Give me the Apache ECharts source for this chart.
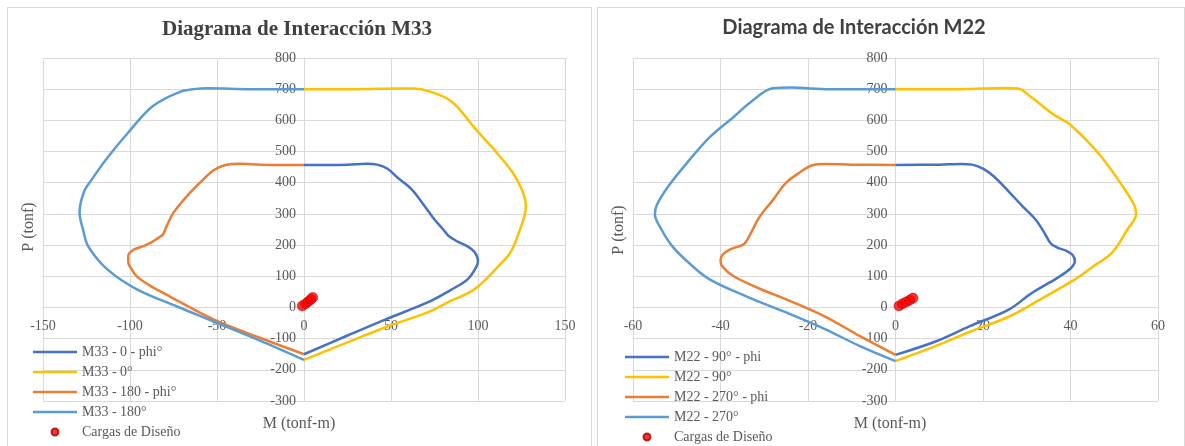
<!DOCTYPE html>
<html>
<head>
<meta charset="utf-8">
<script src="https://cdn.jsdelivr.net/npm/echarts@6/dist/echarts.min.js"></script>
<style>
  html, body { margin: 0; padding: 0; background: #fff; width: 1185px; height: 446px; overflow: hidden; }
  .panel { position: absolute; top: 7px; height: 445px; border: 1px solid #d9d9d9; background: #fff; }
  #m33 { left: 7px; width: 583px; }
  #m22 { left: 597px; width: 586px; }
</style>
</head>
<body>
<div id="m33" class="panel"></div>
<div id="m22" class="panel"></div>
<script>
// ---- Interaction diagram M33: [M (tonf-m), P (tonf)] ----
const m33Phi0 = [[0,457],[25,458],[36,461],[42,458],[48,445],[54,415],[62,378],[70,320],[75,282],[80,250],[83,230],[88,212],[94,196],[98,178],[100,150],[99,130],[94,90],[84,55],[71,16],[47,-38],[25,-90],[0,-150]];
const m33Nom0 = [[0,700],[30,700],[55,702],[63,702],[72,693],[85,660],[98,576],[111,495],[120,432],[125,380],[127.5,330],[127,300],[124,248],[119,180],[113,140],[98,58],[84,20],[71,-16],[48,-61],[25,-112],[0,-168]];
const m33Phi180 = [[0,457],[-25,458],[-36,461],[-45,457],[-52,440],[-58,410],[-66,365],[-75,304],[-79,260],[-81,235],[-84,222],[-88,208],[-93,195],[-98,185],[-101,165],[-101,144],[-99,122],[-96,99],[-87,65],[-77,35],[-52,-38],[-25,-98],[0,-150]];
const m33Nom180 = [[0,700],[-30,700],[-55,703],[-62,701],[-72,690],[-87,645],[-101,561],[-113,480],[-122,410],[-126.5,370],[-129,304],[-127,250],[-124,196],[-113,122],[-96,58],[-73,3],[-52,-45],[-25,-107],[0,-168]];
const m33Loads = [[-1,5],[1,12],[2.5,19],[4,26],[5,32]];

// ---- Interaction diagram M22: [M (tonf-m), P (tonf)] ----
const m22Phi90 = [[0,457],[10,458],[15,460],[17.5,458],[20,445],[22.5,420],[26,370],[29,325],[32,282],[34,240],[35.5,205],[37,192],[39,182],[40.5,168],[41,148],[40,125],[37,95],[31,45],[26,-6],[17,-60],[9,-110],[0,-152]];
const m22Nom90 = [[0,700],[15,700],[25,704],[28,702],[31,675],[36,620],[40,585],[46.7,489],[52,387],[54.5,330],[55,300],[53,250],[49.5,176],[45,130],[41,90],[33,25],[26,-29],[17,-78],[9,-125],[0,-172]];
const m22Phi270 = [[0,457],[-10,458],[-16,460],[-19,456],[-22,432],[-25,400],[-28,345],[-31,292],[-33,240],[-34.5,205],[-36,195],[-38,185],[-39.5,170],[-40,150],[-39.5,130],[-37,100],[-31,60],[-25,26],[-16,-30],[-8,-93],[0,-152]];
const m22Nom270 = [[0,700],[-15,700],[-24,705],[-28,703],[-33,660],[-37,611],[-42.4,547],[-47.7,463],[-52,387],[-54.5,330],[-55,300],[-53.5,250],[-51,196],[-47,140],[-42.5,90],[-34,35],[-25,-16],[-16,-70],[-8,-125],[0,-172]];
const m22Loads = [[0.8,5],[1.6,12],[2.5,18],[3.3,24],[4,30]];

// ---- Axis ranges and labels ----
const pAxis = { min: -300, max: 800, step: 100 };
const m33Axis = { min: -150, max: 150, step: 50 };
const m22Axis = { min: -60, max: 60, step: 20 };
const m33Names = ['M33 - 0 - phi°', 'M33 - 0°', 'M33 - 180 - phi°', 'M33 - 180°', 'Cargas de Diseño'];
const m22Names = ['M22 - 90° - phi', 'M22 - 90°', 'M22 - 270° - phi', 'M22 - 270°', 'Cargas de Diseño'];
const colors = ['#4472C4', '#FFC000', '#ED7D31', '#5B9BD5', '#FF0000'];

const SERIF = '"Liberation Serif", "DejaVu Serif", serif';
const GRID_COLOR = '#d9d9d9';
const TEXT_COLOR = '#595959';
const GRID_TOP = 50, GRID_H = 343, GRID_LEFT = 35;
// thin bar used as the legend key for the line series
const LINE_KEY = 'path://M0,0M0,2.2H44V4.8H0ZM44,7';

function buildOption(cfg) {
  // both axes cross at zero: shift them inside the grid
  const zeroY = GRID_H * pAxis.max / (pAxis.max - pAxis.min);
  const zeroX = cfg.gridW * (0 - cfg.xAxis.min) / (cfg.xAxis.max - cfg.xAxis.min);
  const lineSeries = cfg.curves.map((pts, i) => ({
    name: cfg.names[i],
    type: 'line',
    data: pts,
    symbol: 'none',
    smooth: 0.35,
    lineStyle: { width: 2.5, color: colors[i] },
    itemStyle: { color: colors[i] },
    z: 2 + i
  }));
  return {
    animation: false,
    grid: { left: GRID_LEFT, top: GRID_TOP, width: cfg.gridW, height: GRID_H, outerBoundsMode: 'none' },
    xAxis: {
      type: 'value', min: cfg.xAxis.min, max: cfg.xAxis.max, interval: cfg.xAxis.step,
      position: 'bottom', offset: -(GRID_H - zeroY),
      axisLine: { show: true, onZero: false, lineStyle: { color: GRID_COLOR } },
      axisTick: { show: false },
      splitLine: { show: true, lineStyle: { color: GRID_COLOR } },
      axisLabel: { margin: 12, color: TEXT_COLOR, fontFamily: SERIF, fontSize: 14 }
    },
    yAxis: {
      type: 'value', min: pAxis.min, max: pAxis.max, interval: pAxis.step,
      position: 'left', offset: -zeroX,
      axisLine: { show: true, onZero: false, lineStyle: { color: GRID_COLOR } },
      axisTick: { show: false },
      splitLine: { show: true, lineStyle: { color: GRID_COLOR } },
      axisLabel: { margin: 8, color: TEXT_COLOR, fontFamily: SERIF, fontSize: 14 }
    },
    legend: {
      orient: 'vertical', left: cfg.legendLeft, top: cfg.legendTop, padding: 0,
      itemWidth: 44, itemHeight: 7, itemGap: 6,
      textStyle: { color: TEXT_COLOR, fontFamily: SERIF, fontSize: 14 },
      data: cfg.names.map((n, i) => (i < 4 ? { name: n, icon: LINE_KEY } : { name: n, icon: 'circle' }))
    },
    graphic: [
      { type: 'text', x: cfg.titleX, y: cfg.titleY, style: {
          text: cfg.title, align: 'center', verticalAlign: 'middle',
          fill: '#404040', font: cfg.titleFont } },
      { type: 'text', x: cfg.mNameX, y: 416, style: {
          text: 'M (tonf-m)', align: 'center', verticalAlign: 'middle',
          fill: TEXT_COLOR, font: '16px ' + SERIF } },
      { type: 'text', x: 21, y: cfg.pNameY, rotation: Math.PI / 2, style: {
          text: 'P (tonf)', align: 'center', verticalAlign: 'middle',
          fill: TEXT_COLOR, font: '16px ' + SERIF } }
    ],
    series: lineSeries.concat([{
      name: cfg.names[4],
      type: 'scatter',
      data: cfg.loads,
      symbolSize: 10,
      itemStyle: { color: colors[4], borderColor: '#a00000', borderWidth: 0.6 },
      z: 10
    }])
  };
}

const chart33 = echarts.init(document.getElementById('m33'), null, { renderer: 'canvas' });
chart33.setOption(buildOption({
  title: 'Diagrama de Interacción M33', titleX: 289, titleY: 22,
  titleFont: 'bold 21px ' + SERIF,
  names: m33Names,
  curves: [m33Phi0, m33Nom0, m33Phi180, m33Nom180],
  loads: m33Loads,
  xAxis: m33Axis, gridW: 522,
  legendLeft: 25, legendTop: 337,
  mNameX: 291, pNameY: 219
}));

const chart22 = echarts.init(document.getElementById('m22'), null, { renderer: 'canvas' });
chart22.setOption(buildOption({
  title: 'Diagrama de Interacción M22', titleX: 256, titleY: 20,
  titleFont: 'bold 20px Lato, "Open Sans", sans-serif',
  names: m22Names,
  curves: [m22Phi90, m22Nom90, m22Phi270, m22Nom270],
  loads: m22Loads,
  xAxis: m22Axis, gridW: 525,
  legendLeft: 27, legendTop: 342,
  mNameX: 292, pNameY: 222
}));
</script>
</body>
</html>
